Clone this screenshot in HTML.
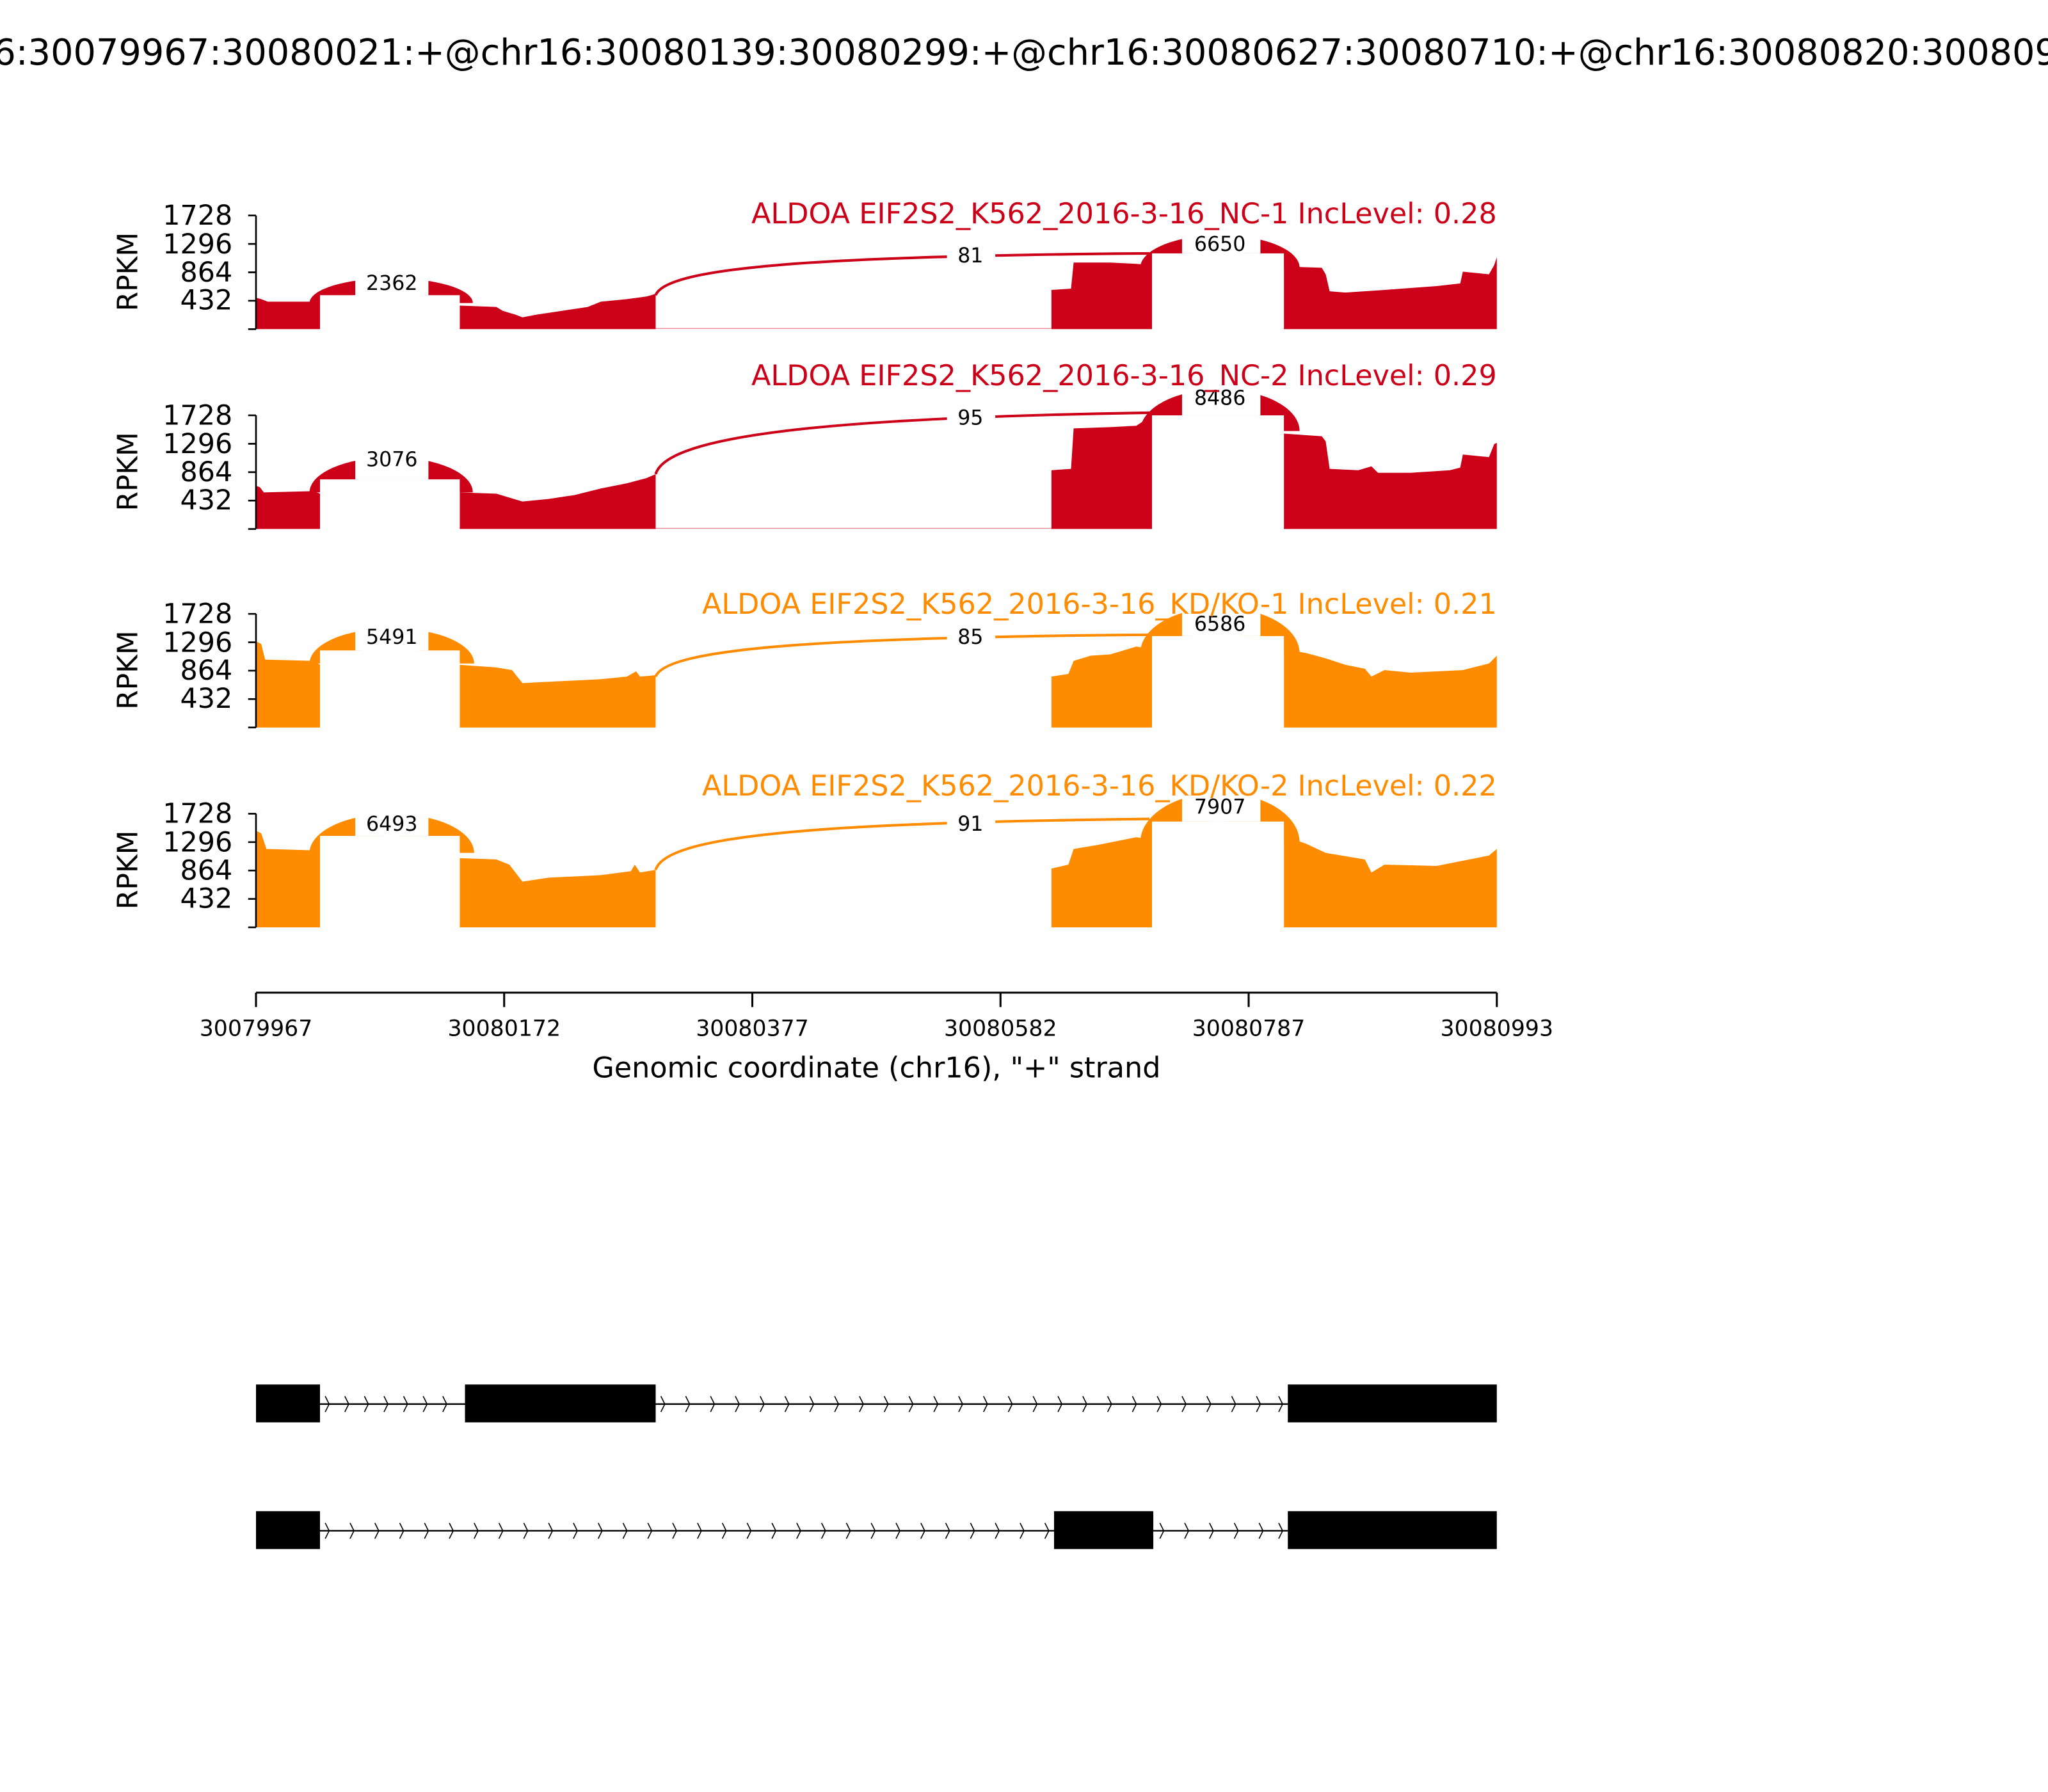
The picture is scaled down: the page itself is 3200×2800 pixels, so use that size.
<!DOCTYPE html>
<html><head><meta charset="utf-8"><style>html,body{margin:0;padding:0;background:#fff;}svg{display:block;}</style></head>
<body>
<svg width="3200" height="2800" viewBox="0 0 1568 1372" preserveAspectRatio="none" xmlns="http://www.w3.org/2000/svg" font-family="DejaVu Sans, Liberation Sans, sans-serif">
<rect width="1568" height="1372" fill="#fff"/>
<text x="788" y="49.5" font-size="27.3" text-anchor="middle">chr16:30079967:30080021:+@chr16:30080139:30080299:+@chr16:30080627:30080710:+@chr16:30080820:30080993:+</text>

<!-- Panel 1 -->
<g fill="#cc0018">
<path d="M196,252 L196,228 L200,229 L205,231 L240,231 L245,232 L245,252 Z"/>
<path d="M352,252 L352,234 L380,235 L385,238 L395,241 L400,243 L410,241 L430,238 L450,235 L460,231 L480,229 L495,227 L502,225 L502,252 Z"/>
<path d="M805,252 L805,222 L820,221 L822,201 L850,201 L870,202 L882,203 L882,252 Z"/>
<path d="M983,252 L983,204 L1012,205 L1015,210 L1018,223 L1030,224 L1060,222 L1100,219 L1118,217 L1120,208 L1140,210 L1144,203 L1146,197 L1146,252 Z"/>
<path d="M237,232 A62.5,19 0 0 1 362,232 L352,232 A53.5,7 0 0 0 245,232 Z"/>
<path d="M873,205 A61,25 0 0 1 995,205 L983,205 A50.5,12 0 0 0 882,205 Z"/>
</g>
<rect x="245" y="226" width="107" height="25" fill="#fff"/>
<rect x="882" y="194" width="101" height="57" fill="#fff"/>
<path d="M502,226 C510,205 620,196 880,194" fill="none" stroke="#cc0018" stroke-width="2"/>
<line x1="502" y1="251.5" x2="805" y2="251.5" stroke="#cc0018" stroke-width="0.6" opacity="0.5"/>
<rect x="272" y="205" width="56" height="21" fill="#fff"/>
<rect x="905" y="172" width="60" height="22" fill="#fff"/>
<rect x="725" y="188" width="37" height="16" fill="#fff"/>
<g font-size="15.5" text-anchor="middle"><text x="300" y="222">2362</text><text x="934" y="192">6650</text><text x="743" y="201">81</text></g>
<text x="1146" y="171" font-size="21.8" text-anchor="end" fill="#cc0018">ALDOA EIF2S2_K562_2016-3-16_NC-1 IncLevel: 0.28</text>

<!-- Panel 2 -->
<g fill="#cc0018">
<path d="M196,405 L196,372 L199,373 L202,377 L240,376 L245,378 L245,405 Z"/>
<path d="M352,405 L352,377 L380,378 L390,381 L400,384 L420,382 L440,379 L460,374 L480,370 L495,366 L502,363 L502,405 Z"/>
<path d="M805,405 L805,360 L820,359 L822,328 L850,327 L870,326 L876,322 L882,330 L882,405 Z"/>
<path d="M983,405 L983,332 L1012,334 L1015,338 L1018,359 L1040,360 L1050,357 L1055,362 L1080,362 L1110,360 L1118,358 L1120,348 L1140,350 L1144,340 L1146,339 L1146,405 Z"/>
<path d="M237,377 A62.5,27 0 0 1 362,377 L352,377 A53.5,10 0 0 0 245,377 Z"/>
<path d="M873,330 A61,32 0 0 1 995,330 L983,330 A50.5,12 0 0 0 882,330 Z"/>
</g>
<rect x="245" y="367" width="107" height="37" fill="#fff"/>
<rect x="882" y="318" width="101" height="86" fill="#fff"/>
<path d="M502,363 C510,335 620,320 880,316" fill="none" stroke="#cc0018" stroke-width="2"/>
<line x1="502" y1="404.5" x2="805" y2="404.5" stroke="#cc0018" stroke-width="0.6" opacity="0.5"/>
<rect x="272" y="340" width="56" height="27" fill="#fff"/>
<rect x="905" y="290" width="60" height="28" fill="#fff"/>
<rect x="725" y="311" width="37" height="16" fill="#fff"/>
<g font-size="15.5" text-anchor="middle"><text x="300" y="357">3076</text><text x="934" y="310">8486</text><text x="743" y="325">95</text></g>
<text x="1146" y="295" font-size="21.8" text-anchor="end" fill="#cc0018">ALDOA EIF2S2_K562_2016-3-16_NC-2 IncLevel: 0.29</text>

<!-- Panel 3 -->
<g fill="#ff8c00">
<path d="M196,557 L196,491 L200,493 L203,505 L240,506 L245,509 L245,557 Z"/>
<path d="M352,557 L352,509 L380,511 L392,513 L400,523 L420,522 L460,520 L480,518 L487,514 L490,518 L502,517 L502,557 Z"/>
<path d="M805,557 L805,518 L818,516 L822,506 L835,502 L850,501 L860,498 L870,495 L882,497 L882,557 Z"/>
<path d="M983,557 L983,497 L1000,500 L1015,504 L1030,509 L1045,512 L1050,518 L1060,513 L1080,515 L1120,513 L1140,508 L1146,502 L1146,557 Z"/>
<path d="M237,508 A63,27 0 0 1 363,508 L352,508 A53.5,11 0 0 0 245,508 Z"/>
<path d="M873,500 A61,35 0 0 1 995,500 L983,500 A50.5,14 0 0 0 882,500 Z"/>
</g>
<rect x="245" y="498" width="107" height="58" fill="#fff"/>
<rect x="882" y="487" width="101" height="69" fill="#fff"/>
<path d="M502,518 C510,497 620,488 880,486" fill="none" stroke="#ff8c00" stroke-width="2"/>
<rect x="272" y="474" width="56" height="24" fill="#fff"/>
<rect x="905" y="462" width="60" height="25" fill="#fff"/>
<rect x="725" y="479" width="37" height="16" fill="#fff"/>
<g font-size="15.5" text-anchor="middle"><text x="300" y="493">5491</text><text x="934" y="483">6586</text><text x="743" y="493">85</text></g>
<text x="1146" y="470" font-size="21.8" text-anchor="end" fill="#ff8c00">ALDOA EIF2S2_K562_2016-3-16_KD/KO-1 IncLevel: 0.21</text>

<!-- Panel 4 -->
<g fill="#ff8c00">
<path d="M196,710 L196,636 L200,638 L204,650 L240,651 L245,653 L245,710 Z"/>
<path d="M352,710 L352,657 L380,658 L390,662 L400,675 L420,672 L460,670 L483,667 L486,662 L490,668 L502,666 L502,710 Z"/>
<path d="M805,710 L805,665 L818,662 L822,650 L840,647 L860,643 L870,641 L882,643 L882,710 Z"/>
<path d="M983,710 L983,640 L1000,646 L1015,653 L1045,658 L1050,668 L1060,662 L1100,663 L1140,655 L1146,650 L1146,710 Z"/>
<path d="M237,653 A63,30 0 0 1 363,653 L352,653 A53.5,13 0 0 0 245,653 Z"/>
<path d="M873,645 A61,38 0 0 1 995,645 L983,645 A50.5,16 0 0 0 882,645 Z"/>
</g>
<rect x="245" y="640" width="107" height="69" fill="#fff"/>
<rect x="882" y="629" width="101" height="80" fill="#fff"/>
<path d="M502,666 C510,640 620,630 880,627" fill="none" stroke="#ff8c00" stroke-width="2"/>
<rect x="272" y="618" width="56" height="22" fill="#fff"/>
<rect x="905" y="604" width="60" height="25" fill="#fff"/>
<rect x="725" y="622" width="37" height="16" fill="#fff"/>
<g font-size="15.5" text-anchor="middle"><text x="300" y="636">6493</text><text x="934" y="623">7907</text><text x="743" y="636">91</text></g>
<text x="1146" y="609" font-size="21.8" text-anchor="end" fill="#ff8c00">ALDOA EIF2S2_K562_2016-3-16_KD/KO-2 IncLevel: 0.22</text>

<!-- Y axes -->
<g stroke="#000" stroke-width="1.3" fill="none">
<path d="M196,165 V252 M190,165 H196 M190,186.75 H196 M190,208.5 H196 M190,230.25 H196 M190,252 H196"/>
<path d="M196,318 V405 M190,318 H196 M190,339.75 H196 M190,361.5 H196 M190,383.25 H196 M190,405 H196"/>
<path d="M196,470 V557 M190,470 H196 M190,491.75 H196 M190,513.5 H196 M190,535.25 H196 M190,557 H196"/>
<path d="M196,623 V710 M190,623 H196 M190,644.75 H196 M190,666.5 H196 M190,688.25 H196 M190,710 H196"/>
</g>
<g font-size="21" text-anchor="end">
<text x="178" y="172">1728</text><text x="178" y="194">1296</text><text x="178" y="215.5">864</text><text x="178" y="237">432</text>
<text x="178" y="325">1728</text><text x="178" y="347">1296</text><text x="178" y="368.5">864</text><text x="178" y="390">432</text>
<text x="178" y="477">1728</text><text x="178" y="499">1296</text><text x="178" y="520.5">864</text><text x="178" y="542">432</text>
<text x="178" y="630">1728</text><text x="178" y="652">1296</text><text x="178" y="673.5">864</text><text x="178" y="695">432</text>
</g>
<g font-size="21.5" text-anchor="middle">
<text transform="translate(105,208) rotate(-90)">RPKM</text>
<text transform="translate(105,361) rotate(-90)">RPKM</text>
<text transform="translate(105,513) rotate(-90)">RPKM</text>
<text transform="translate(105,666) rotate(-90)">RPKM</text>
</g>

<!-- X axis -->
<g stroke="#000" stroke-width="1.5"><path d="M196,760 H1146 M196,760 V771 M386,760 V771 M576,760 V771 M766,760 V771 M956,760 V771 M1146,760 V771"/></g>
<g font-size="17" text-anchor="middle">
<text x="196" y="793">30079967</text><text x="386" y="793">30080172</text><text x="576" y="793">30080377</text><text x="766" y="793">30080582</text><text x="956" y="793">30080787</text><text x="1146" y="793">30080993</text>
</g>
<text x="671" y="825" font-size="21.8" text-anchor="middle">Genomic coordinate (chr16), "+" strand</text>

<!-- Gene models -->
<g fill="#000">
<rect x="196" y="1060" width="49" height="29"/><rect x="356" y="1060" width="146" height="29"/><rect x="986" y="1060" width="160" height="29"/>
<rect x="196" y="1157" width="49" height="29"/><rect x="807" y="1157" width="76" height="29"/><rect x="986" y="1157" width="160" height="29"/>
</g>
<g stroke="#000" stroke-width="1.2"><path d="M245,1075 H356 M502,1075 H986 M245,1172 H807 M883,1172 H986"/></g>
<g stroke="#000" stroke-width="0.8" fill="none">
<path d="M249,1069 l3,6 l-3,6 M264,1069 l3,6 l-3,6 M279,1069 l3,6 l-3,6 M294,1069 l3,6 l-3,6 M309,1069 l3,6 l-3,6 M324,1069 l3,6 l-3,6 M339,1069 l3,6 l-3,6"/>
<path d="M506,1069 l3,6 l-3,6 M525,1069 l3,6 l-3,6 M544,1069 l3,6 l-3,6 M563,1069 l3,6 l-3,6 M582,1069 l3,6 l-3,6 M601,1069 l3,6 l-3,6 M620,1069 l3,6 l-3,6 M639,1069 l3,6 l-3,6 M658,1069 l3,6 l-3,6 M677,1069 l3,6 l-3,6 M696,1069 l3,6 l-3,6 M715,1069 l3,6 l-3,6 M734,1069 l3,6 l-3,6 M753,1069 l3,6 l-3,6 M772,1069 l3,6 l-3,6 M791,1069 l3,6 l-3,6 M810,1069 l3,6 l-3,6 M829,1069 l3,6 l-3,6 M848,1069 l3,6 l-3,6 M867,1069 l3,6 l-3,6 M886,1069 l3,6 l-3,6 M905,1069 l3,6 l-3,6 M924,1069 l3,6 l-3,6 M943,1069 l3,6 l-3,6 M962,1069 l3,6 l-3,6 M979,1069 l3,6 l-3,6"/>
<path d="M249,1166 l3,6 l-3,6 M268,1166 l3,6 l-3,6 M287,1166 l3,6 l-3,6 M306,1166 l3,6 l-3,6 M325,1166 l3,6 l-3,6 M344,1166 l3,6 l-3,6 M363,1166 l3,6 l-3,6 M382,1166 l3,6 l-3,6 M401,1166 l3,6 l-3,6 M420,1166 l3,6 l-3,6 M439,1166 l3,6 l-3,6 M458,1166 l3,6 l-3,6 M477,1166 l3,6 l-3,6 M496,1166 l3,6 l-3,6 M515,1166 l3,6 l-3,6 M534,1166 l3,6 l-3,6 M553,1166 l3,6 l-3,6 M572,1166 l3,6 l-3,6 M591,1166 l3,6 l-3,6 M610,1166 l3,6 l-3,6 M629,1166 l3,6 l-3,6 M648,1166 l3,6 l-3,6 M667,1166 l3,6 l-3,6 M686,1166 l3,6 l-3,6 M705,1166 l3,6 l-3,6 M724,1166 l3,6 l-3,6 M743,1166 l3,6 l-3,6 M762,1166 l3,6 l-3,6 M781,1166 l3,6 l-3,6 M800,1166 l3,6 l-3,6"/>
<path d="M888,1166 l3,6 l-3,6 M907,1166 l3,6 l-3,6 M926,1166 l3,6 l-3,6 M945,1166 l3,6 l-3,6 M964,1166 l3,6 l-3,6 M979,1166 l3,6 l-3,6"/>
</g>
</svg>
</body></html>
